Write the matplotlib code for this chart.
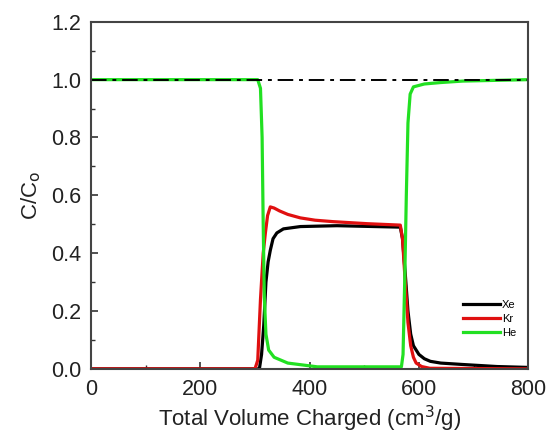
import matplotlib.pyplot as plt
from matplotlib.ticker import MultipleLocator

plt.rcParams['font.family'] = ['Liberation Sans', 'DejaVu Sans']

# breakthrough curves, C/Co vs total volume charged
vol_xe = [0, 308, 312, 316, 320, 324, 328, 333, 340, 352, 383, 450, 566,
          570, 575, 580, 585, 590, 600, 610, 621, 640, 681, 743, 800]
xe = [0, 0, 0.05, 0.15, 0.30, 0.37, 0.41, 0.45, 0.47, 0.484, 0.492, 0.495, 0.49,
      0.45, 0.33, 0.20, 0.12, 0.08, 0.05, 0.035, 0.026, 0.02, 0.015, 0.008, 0.005]

vol_kr = [0, 300, 305, 310, 315, 319, 323, 328, 335, 345, 360, 383, 410, 443, 505, 566,
          570, 575, 580, 585, 590, 595, 605, 620, 800]
kr = [0, 0, 0.03, 0.24, 0.40, 0.47, 0.53, 0.56, 0.556, 0.546, 0.534, 0.522, 0.514, 0.509, 0.502, 0.497,
      0.45, 0.30, 0.16, 0.08, 0.04, 0.02, 0.008, 0.002, 0.0]

vol_he = [0, 305, 310, 313, 315, 317, 320, 325, 335, 360, 414, 500, 568,
          571, 574, 577, 580, 584, 590, 610, 640, 680, 800]
he = [1.0, 1.0, 0.97, 0.80, 0.50, 0.25, 0.12, 0.065, 0.04, 0.02, 0.007, 0.007, 0.007,
      0.05, 0.30, 0.60, 0.85, 0.95, 0.975, 0.985, 0.99, 0.995, 1.0]

fig = plt.figure(figsize=(5.49, 4.36), dpi=100)
ax = fig.add_axes([0.166, 0.154, 0.796, 0.796])

ax.plot(vol_xe, xe, color='black', lw=2.3, label='Xe')
ax.plot(vol_kr, kr, color='#e01010', lw=2.3, label='Kr')
ax.plot(vol_he, he, color='#22e022', lw=2.3, label='He')
ax.axhline(1.0, color='black', lw=1.4, ls=(0, (8, 3, 2, 3)))

ax.set_xlim(0, 800)
ax.set_ylim(0, 1.2)
ax.xaxis.set_major_locator(MultipleLocator(200))
ax.xaxis.set_minor_locator(MultipleLocator(100))
ax.yaxis.set_major_locator(MultipleLocator(0.2))
ax.yaxis.set_minor_locator(MultipleLocator(0.1))
ax.yaxis.set_major_formatter(plt.FormatStrFormatter('%.1f'))
ax.tick_params(which='both', direction='in', labelsize=15.5, colors='#333333',
               labelcolor='#222222')
ax.tick_params(which='major', length=5, width=1.2, pad=7)
ax.tick_params(which='minor', length=3, width=1.0)
for s in ax.spines.values():
    s.set_color('#444444')
    s.set_linewidth(1.5)

ax.set_xlabel('Total Volume Charged (cm$^3$/g)', fontsize=16, color='#222222',
              labelpad=3)
ax.set_ylabel(r'C/C$_\mathrm{o}$', fontsize=16, color='#222222', labelpad=6)

ax.legend(loc='lower right', frameon=False, fontsize=8, handlelength=3.3,
          handletextpad=0.15, labelspacing=0.35, bbox_to_anchor=(0.995, 0.06))

fig.savefig('out.png', dpi=100)
